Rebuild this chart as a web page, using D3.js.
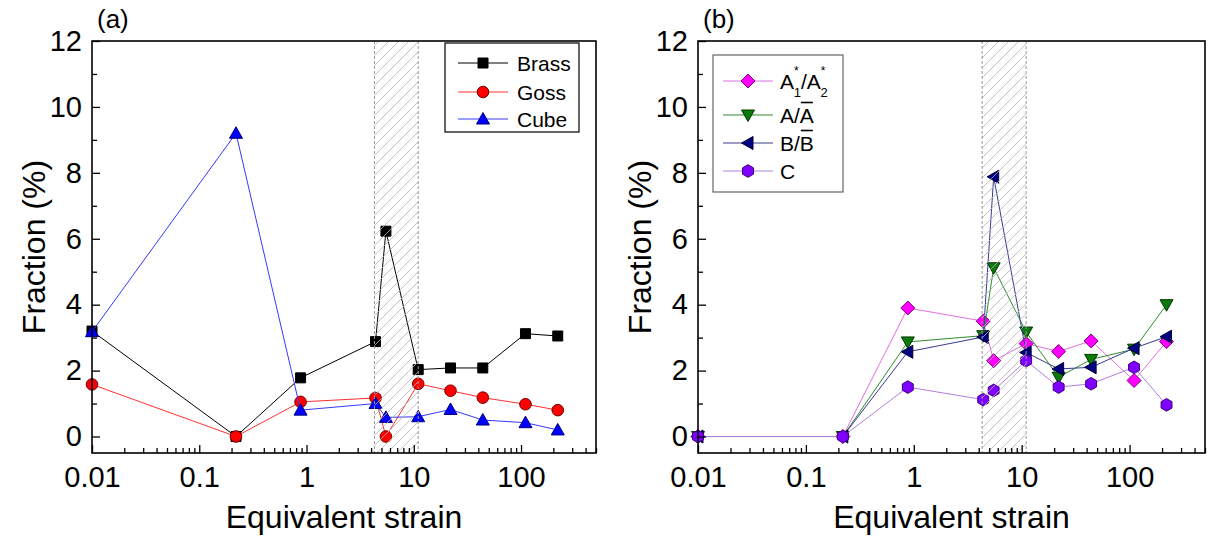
<!DOCTYPE html>
<meta charset="utf-8">
<script src="https://d3js.org/d3.v7.min.js"></script>
<style>
  body { margin: 0; background: #fff; }
  text { font-family: "Liberation Sans", Arial, sans-serif; fill: #000; }
</style>
<body>
<svg id="chart" width="1208" height="538"></svg>
</body>
<script>

// ---- data ----
var strain = [0.01, 0.22, 0.88, 4.4, 5.5, 11, 22, 44, 110, 220];

// panel (a)
var brass = [3.2, 0, 1.78, 2.88, 6.23, 2.03, 2.08, 2.08, 3.12, 3.05];
var goss  = [1.58, 0, 1.05, 1.17, 0, 1.6, 1.39, 1.18, 0.98, 0.8];
var cube  = [3.18, 9.2, 0.8, 1.0, 0.58, 0.6, 0.82, 0.5, 0.42, 0.2];

// panel (b)
var a1a2 = [0, 0, 3.9, 3.5, 2.3, 2.82, 2.58, 2.9, 1.7, 2.88];
var aBar = [0, 0, 2.87, 3.06, 5.12, 3.17, 1.8, 2.34, 2.65, 4.0];
var bBar = [0, 0, 2.57, 3.02, 7.88, 2.55, 2.05, 2.1, 2.68, 3.03];
var cSer = [0, 0, 1.5, 1.12, 1.4, 2.3, 1.5, 1.6, 2.1, 0.96];

var yTicks = [0, 2, 4, 6, 8, 10, 12];
var yMinor = [1, 3, 5, 7, 9, 11];
var xTicks = [0.01, 0.1, 1, 10, 100];
var hatchRange = [4.3, 11];

// ---- layout ----
var yTop = 41, yBottom = 453;
var svg = d3.select("#chart");

var defs = svg.append("defs");
var pat = defs.append("pattern")
    .attr("id", "hatch")
    .attr("patternUnits", "userSpaceOnUse")
    .attr("width", 10)
    .attr("height", 10);
pat.append("path")
    .attr("d", "M-2,2 l4,-4 M0,10 l10,-10 M8,12 l4,-4")
    .attr("stroke", "#b4b4b4")
    .attr("stroke-width", 1)
    .attr("fill", "none");

// marker shapes
function markerPath(shape) {
    switch (shape) {
        case "square":  return "M-5,-5H5V5H-5Z";
        case "up":      return "M0,-6.5L6.5,5L-6.5,5Z";
        case "down":    return "M0,6.5L6.5,-5L-6.5,-5Z";
        case "left":    return "M-6.5,0L5,-6.5L5,6.5Z";
        case "diamond": return "M0,-7L7,0L0,7L-7,0Z";
        case "hexagon":
            var pts = d3.range(6).map(function(i) {
                var a = Math.PI / 3 * i - Math.PI / 2;
                return [6.3 * Math.cos(a), 6.3 * Math.sin(a)];
            });
            return "M" + pts.join("L") + "Z";
    }
    return null;
}

function drawMarker(g, shape, x, y, s) {
    if (shape === "circle") {
        g.append("circle")
            .attr("cx", x).attr("cy", y).attr("r", 5.8)
            .attr("fill", s.fill).attr("stroke", s.edge).attr("stroke-width", 1);
    } else {
        g.append("path")
            .attr("d", markerPath(shape))
            .attr("transform", "translate(" + x + "," + y + ")")
            .attr("fill", s.fill).attr("stroke", s.edge).attr("stroke-width", 1);
    }
}

var panels = [
    {
        left: 92, right: 596, tag: "(a)",
        series: [
            {key: "Brass", values: brass, shape: "square", line: "#000000", fill: "#000000", edge: "#000000"},
            {key: "Goss",  values: goss,  shape: "circle", line: "#ff3030", fill: "#ff0000", edge: "#700000"},
            {key: "Cube",  values: cube,  shape: "up",     line: "#3838ff", fill: "#0000ff", edge: "#000080"}
        ],
        legend: {x: 445, y: 43, w: 134, h: 89, rows: [63, 92, 119], x0: 458, x1: 508, tx: 517, stroke: "#000"}
    },
    {
        left: 698, right: 1205, tag: "(b)",
        series: [
            {key: "A1A2", values: a1a2, shape: "diamond", line: "#e070e0", fill: "#ff00ff", edge: "#800080"},
            {key: "ABar", values: aBar, shape: "down",    line: "#2e8b2e", fill: "#0a7a0a", edge: "#003800"},
            {key: "BBar", values: bBar, shape: "left",    line: "#3a3a90", fill: "#000080", edge: "#000030"},
            {key: "C",    values: cSer, shape: "hexagon", line: "#b080e0", fill: "#8000ff", edge: "#400080"}
        ],
        legend: {x: 713, y: 55, w: 130, h: 137, rows: [81, 115, 143, 171], x0: 723, x1: 773, tx: 780, stroke: "#666"}
    }
];

function drawLabel(g, key, x, y) {
    var t = g.append("text").attr("x", x).attr("y", y).style("font-size", "21px");
    if (key === "A1A2") {
        t.append("tspan").text("A");
        t.append("tspan").style("font-size", "12px").attr("dy", -14).text("*");
        t.append("tspan").style("font-size", "13px").attr("dx", -5).attr("dy", 22).text("1");
        t.append("tspan").attr("dy", -8).text("/A");
        t.append("tspan").style("font-size", "12px").attr("dy", -14).text("*");
        t.append("tspan").style("font-size", "13px").attr("dx", -5).attr("dy", 22).text("2");
    } else if (key === "ABar" || key === "BBar") {
        var letter = key.charAt(0);
        t.text(letter + "/");
        var w = t.node().getComputedTextLength();
        var t2 = g.append("text").attr("x", x + w).attr("y", y).style("font-size", "21px").text(letter);
        var w2 = t2.node().getComputedTextLength();
        g.append("line")
            .attr("x1", x + w + 1).attr("x2", x + w + w2 - 1)
            .attr("y1", y - 20).attr("y2", y - 20)
            .attr("stroke", "#000").attr("stroke-width", 1.6);
    } else {
        t.text(key);
    }
}

panels.forEach(function(p) {
    var x = d3.scaleLog().domain([0.01, 500]).range([p.left, p.right]);
    var y = d3.scaleLinear().domain([-0.5, 12]).range([yBottom, yTop]);

    var g = svg.append("g");

    // data
    var line = d3.line()
        .x(function(d, i) { return x(strain[i]); })
        .y(function(d) { return y(d); });

    p.series.forEach(function(s) {
        g.append("path")
            .datum(s.values)
            .attr("d", line)
            .attr("fill", "none")
            .attr("stroke", s.line)
            .attr("stroke-width", 1);
        s.values.forEach(function(v, i) {
            drawMarker(g, s.shape, x(strain[i]), y(v), s);
        });
    });

    // hatched band drawn over the data
    var hx0 = x(hatchRange[0]), hx1 = x(hatchRange[1]);
    g.append("rect")
        .attr("x", hx0).attr("y", yTop)
        .attr("width", hx1 - hx0).attr("height", yBottom - yTop)
        .attr("fill", "url(#hatch)")
        .attr("opacity", 0.8);
    [hx0, hx1].forEach(function(hx) {
        g.append("line")
            .attr("x1", hx).attr("x2", hx)
            .attr("y1", yTop).attr("y2", yBottom)
            .attr("stroke", "#999")
            .attr("stroke-width", 1)
            .attr("stroke-dasharray", "3,2");
    });

    // axes (ticks point inwards)
    var xMinor = [];
    xTicks.forEach(function(d) {
        for (var k = 2; k <= 9; k++) { if (k * d <= 500) xMinor.push(k * d); }
    });

    var xAxis = g.append("g")
        .attr("transform", "translate(0," + yBottom + ")")
        .call(d3.axisBottom(x).tickValues(xTicks).tickSize(-8).tickSizeOuter(0).tickPadding(13)
            .tickFormat(function(d) { return String(d); }));
    g.append("g")
        .attr("transform", "translate(0," + yBottom + ")")
        .call(d3.axisBottom(x).tickValues(xMinor).tickSize(-5).tickSizeOuter(0).tickFormat(""))
        .call(function(a) { a.select(".domain").remove(); });

    var yAxis = g.append("g")
        .attr("transform", "translate(" + p.left + ",0)")
        .call(d3.axisLeft(y).tickValues(yTicks).tickSize(-8).tickSizeOuter(0).tickPadding(10));
    g.append("g")
        .attr("transform", "translate(" + p.left + ",0)")
        .call(d3.axisLeft(y).tickValues(yMinor).tickSize(-5).tickSizeOuter(0).tickFormat(""))
        .call(function(a) { a.select(".domain").remove(); });

    [xAxis, yAxis].forEach(function(a) {
        a.select(".domain").remove();
        a.selectAll("text")
            .style("font-family", '"Liberation Sans", Arial, sans-serif')
            .style("font-size", "29px");
    });
    g.selectAll(".tick line").attr("stroke", "#000").attr("stroke-width", 1.3);

    // frame
    g.append("rect")
        .attr("x", p.left).attr("y", yTop)
        .attr("width", p.right - p.left).attr("height", yBottom - yTop)
        .attr("fill", "none")
        .attr("stroke", "#000")
        .attr("stroke-width", 1.6);

    // titles
    g.append("text")
        .attr("x", (p.left + p.right) / 2)
        .attr("y", 528)
        .attr("text-anchor", "middle")
        .style("font-size", "32px")
        .text("Equivalent strain");

    g.append("text")
        .attr("transform", "translate(" + (p.left - 47) + "," + ((yTop + yBottom) / 2) + ") rotate(-90)")
        .attr("text-anchor", "middle")
        .style("font-size", "32px")
        .text("Fraction (%)");

    g.append("text")
        .attr("x", p.left + 5)
        .attr("y", 28)
        .style("font-size", "26px")
        .text(p.tag);

    // legend
    var L = p.legend;
    var lg = g.append("g");
    lg.append("rect")
        .attr("x", L.x).attr("y", L.y).attr("width", L.w).attr("height", L.h)
        .attr("fill", "#fff")
        .attr("stroke", L.stroke)
        .attr("stroke-width", 1.2);
    p.series.forEach(function(s, i) {
        var ry = L.rows[i];
        lg.append("line")
            .attr("x1", L.x0).attr("x2", L.x1)
            .attr("y1", ry).attr("y2", ry)
            .attr("stroke", s.line)
            .attr("stroke-width", 1);
        drawMarker(lg, s.shape, (L.x0 + L.x1) / 2, ry, s);
        drawLabel(lg, s.key, L.tx, ry + 7.5);
    });
});

</script>
